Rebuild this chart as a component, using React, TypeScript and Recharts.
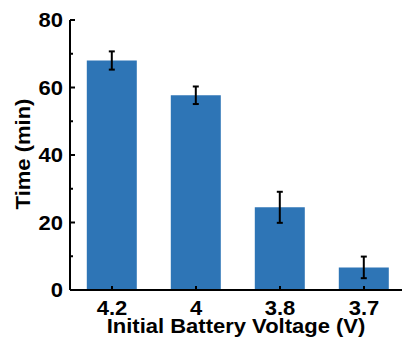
import { BarChart, Bar, XAxis, YAxis, ErrorBar, Label } from 'recharts';

const voltages = ['4.2', '4', '3.8', '3.7'];
const times = [68, 57.7, 24.5, 6.7];
const timeErrors = [2.7, 2.6, 4.6, 3.2];
const yTicks = [0, 10, 20, 30, 40, 50, 60, 70, 80];

const data = voltages.map((v, i) => ({ voltage: v, time: times[i], err: timeErrors[i] }));

const FONT = '"Liberation Sans", Arial, sans-serif';
const STRETCH = 1.1; // the reference text is a bit wider than plain Arial bold

// bold text, stretched along its own direction
const Txt = ({ x, y, anchor = 'middle', rotate = 0, children }) => (
    <g transform={`translate(${x} ${y}) rotate(${rotate}) scale(${STRETCH} 1)`}>
        <text x={0} y={0} textAnchor={anchor} fontFamily={FONT} fontWeight="bold" fontSize={20} fill="#000">
            {children}
        </text>
    </g>
);

const XTick = ({ x, y, payload }) => (
    <g>
        <line x1={x} y1={y} x2={x} y2={y - 4} stroke="#000" strokeWidth={2} />
        <Txt x={x} y={y + 25}>{payload.value}</Txt>
    </g>
);

const YTick = ({ x, y, payload }) => {
    const major = payload.value % 20 === 0;
    return (
        <g>
            <line x1={x} y1={y} x2={x + (major ? 5 : 3)} y2={y} stroke="#000" strokeWidth={2} />
            {major && <Txt x={x - 7} y={y + 7} anchor="end">{payload.value}</Txt>}
        </g>
    );
};

export default function App() {
    return (
        <div style={{ position: 'absolute', left: 0, top: 0, width: 402, height: 351, overflow: 'hidden', background: '#fff' }}>
            <BarChart
                width={420}
                height={351}
                data={data}
                barCategoryGap="20%"
                margin={{ top: 20, right: 14, left: 0, bottom: 0 }}
            >
                <XAxis
                    dataKey="voltage"
                    height={61}
                    tickSize={0}
                    tickMargin={0}
                    tick={XTick}
                    axisLine={{ stroke: '#000', strokeWidth: 2 }}
                >
                    <Label
                        content={({ viewBox }) => (
                            <Txt x={viewBox.x + viewBox.width / 2 - 2} y={viewBox.y + 43}>
                                Initial Battery Voltage (V)
                            </Txt>
                        )}
                    />
                </XAxis>
                <XAxis xAxisId="top" dataKey="voltage" orientation="top" height={0} tick={false} tickLine={false} axisLine={{ stroke: '#000', strokeWidth: 2 }} />
                <YAxis
                    width={70}
                    domain={[0, 80]}
                    ticks={yTicks}
                    interval={0}
                    tickSize={0}
                    tickMargin={0}
                    tick={YTick}
                    axisLine={{ stroke: '#000', strokeWidth: 2 }}
                >
                    <Label
                        content={({ viewBox }) => (
                            <Txt x={viewBox.x + 30} y={viewBox.y + viewBox.height / 2 - 1} rotate={-90}>
                                Time (min)
                            </Txt>
                        )}
                    />
                </YAxis>
                <Bar dataKey="time" fill="#2E75B6" isAnimationActive={false}>
                    <ErrorBar dataKey="err" width={3} stroke="#000" strokeWidth={2} direction="y" />
                </Bar>
            </BarChart>
        </div>
    );
}
